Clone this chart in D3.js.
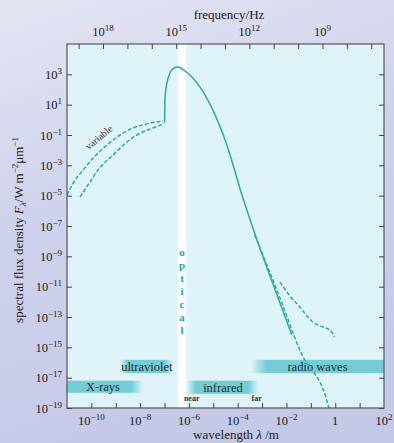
<!DOCTYPE html>
<html>
<head>
<meta charset="utf-8">
<title>Spectral flux density</title>
<script src="https://d3js.org/d3.v7.min.js"></script>
<style>
  body { margin: 0; }
  svg { display: block; font-family: "Liberation Serif", "DejaVu Serif", serif; }
  .curve { fill: none; stroke: #2ea9a3; stroke-width: 1.5px; }
  .dash { stroke-dasharray: 4,2; }
  .axis path { display: none; }
  .axis line { stroke: #444; stroke-width: 1px; }
</style>
</head>
<body>
<script>
// tick values and labels
var wavelengthTicks = [1e-10,1e-9,1e-8,1e-7,1e-6,1e-5,1e-4,1e-3,1e-2,1e-1,1,1e1];
var wavelengthLabelValues = [1e-10,1e-8,1e-6,1e-4,1e-2,1,1e2];
var wavelengthLabels = ["10^\u221210","10^\u22128","10^\u22126","10^\u22124","10^\u22122","1","10^2"];
var freqTicks = [1e19,1e18,1e17,1e16,1e15,1e14,1e13,1e12,1e11,1e10,1e9,1e8,1e7];
var freqLabelValues = [1e18,1e15,1e12,1e9];
var freqLabels = ["10^18","10^15","10^12","10^9"];
var fluxTicks = [1e3,1e1,1e-1,1e-3,1e-5,1e-7,1e-9,1e-11,1e-13,1e-15,1e-17,1e-19];
var fluxLabels = ["10^3","10^1","10^\u22121","10^\u22123","10^\u22125","10^\u22127","10^\u22129",
                  "10^\u221211","10^\u221213","10^\u221215","10^\u221217","10^\u221219"];

// curves: [wavelength (m), flux]
var variableUpper = [[1e-11,1.1e-5],[1.8e-11,6.9e-5],[4.6e-11,4.9e-4],[1.2e-10,3.1e-3],[4.4e-10,0.022],
                     [1.5e-9,0.1],[5e-9,0.29],[1.9e-8,0.54],[8.5e-8,0.83]];
var variableLower = [[3.4e-11,8.1e-6],[8.7e-11,7.9e-5],[2.2e-10,6.8e-4],[7.8e-10,4.8e-3],[2.9e-9,0.035],
                     [9.8e-9,0.13],[3.3e-8,0.29],[9.5e-8,0.54]];
var mainCurve = [[1e-7,0.63],[1.05e-7,32],[1.26e-7,270],[1.66e-7,1230],[2.45e-7,2630],[3.55e-7,3020],
                 [6.9e-7,1660],[1.45e-6,575],[2.8e-6,148],[9.5e-6,4.5],[3.6e-5,0.022],[1.5e-4,1.1e-5],
                 [4.2e-4,7.4e-8],[2.1e-3,5.1e-11],[0.0166,6.6e-15]];
var tailDashed = [[5e-4,2.6e-8],[5.4e-3,1.8e-12],[0.035,6.8e-16],[0.55,1e-19],[0.7,1e-20]];
var radioBranch = [[5.4e-3,2.0e-11],[0.015,2.1e-12],[0.035,4.6e-13],[0.076,1e-13],[0.12,4.7e-14],
                   [0.31,2.2e-14],[0.6,1.4e-14],[0.95,4.9e-15]];

// spectral regions
var bandNames = ["X-rays","ultraviolet","infrared","radio waves"];
var bandLambda = [[1e-11,1.3e-8],[1.6e-9,2.2e-7],[8.3e-7,7.4e-4],[3.5e-4,1e2]];
var bandFlux = [[6.3e-18,1e-18],[1.5e-16,2e-17],[6.3e-18,8.5e-19],[1.5e-16,2e-17]];
var bandFade = [[false,true],[true,true],[true,true],[true,false]];
var opticalLambda = [3e-7,9e-7];
var c = 3e8;

var W = 394, H = 443;
var margin = {top: 44, right: 10, bottom: 35, left: 67};

var x = d3.scaleLog().domain([1e-11, 1e2]).range([margin.left, W - margin.right]);
var y = d3.scaleLog().domain([1e-19, 1e5]).range([H - margin.bottom, margin.top]);
var xf = d3.scaleLog().domain([c / 1e-11, c / 1e2]).range([margin.left, W - margin.right]);

var svg = d3.select("body").append("svg").attr("width", W).attr("height", H);
var defs = svg.append("defs");

var bg = defs.append("linearGradient").attr("id", "bg")
  .attr("x1", 0).attr("y1", 0).attr("x2", 0.3).attr("y2", 1);
bg.append("stop").attr("offset", 0).attr("stop-color", "#e4e5f3");
bg.append("stop").attr("offset", 0.45).attr("stop-color", "#d0d3ed");
bg.append("stop").attr("offset", 1).attr("stop-color", "#c5c9e8");
svg.append("rect").attr("width", W).attr("height", H).attr("fill", "url(#bg)");

var pw = x.range()[1] - x.range()[0], ph = y.range()[0] - y.range()[1];
svg.append("rect").attr("x", x.range()[0]).attr("y", y.range()[1])
  .attr("width", pw).attr("height", ph).attr("fill", "#dff4f9");

defs.append("clipPath").attr("id", "plot").append("rect")
  .attr("x", x.range()[0]).attr("y", y.range()[1]).attr("width", pw).attr("height", ph);

// optical window
var og = defs.append("linearGradient").attr("id", "opt");
og.append("stop").attr("offset", 0).attr("stop-color", "#fff").attr("stop-opacity", 0);
og.append("stop").attr("offset", 0.3).attr("stop-color", "#fff").attr("stop-opacity", 1);
og.append("stop").attr("offset", 0.7).attr("stop-color", "#fff").attr("stop-opacity", 1);
og.append("stop").attr("offset", 1).attr("stop-color", "#fff").attr("stop-opacity", 0);
svg.append("rect").attr("x", x(opticalLambda[0])).attr("y", y.range()[1])
  .attr("width", x(opticalLambda[1]) - x(opticalLambda[0])).attr("height", ph)
  .attr("fill", "url(#opt)");

var xo = (x(opticalLambda[0]) + x(opticalLambda[1])) / 2;
"optical".split("").forEach(function(ch, i) {
  svg.append("text").attr("x", xo).attr("y", y(1e-9) + i * 13)
    .attr("text-anchor", "middle").attr("font-size", "11px").attr("font-weight", "bold")
    .attr("fill", "#2aa6a2").text(ch);
});

// region bands
bandNames.forEach(function(name, i) {
  var g = defs.append("linearGradient").attr("id", "band" + i);
  g.append("stop").attr("offset", 0).attr("stop-color", "#74cdd5").attr("stop-opacity", bandFade[i][0] ? 0 : 1);
  g.append("stop").attr("offset", bandFade[i][0] ? 0.12 : 0).attr("stop-color", "#74cdd5").attr("stop-opacity", 1);
  g.append("stop").attr("offset", bandFade[i][1] ? 0.85 : 1).attr("stop-color", "#74cdd5").attr("stop-opacity", 1);
  g.append("stop").attr("offset", 1).attr("stop-color", "#74cdd5").attr("stop-opacity", bandFade[i][1] ? 0 : 1);
  var x0 = x(bandLambda[i][0]), x1 = x(bandLambda[i][1]);
  var y0 = y(bandFlux[i][0]), y1 = y(bandFlux[i][1]);
  svg.append("rect").attr("x", x0).attr("y", y0).attr("width", x1 - x0).attr("height", y1 - y0)
    .attr("fill", "url(#band" + i + ")");
  svg.append("text").attr("x", (x0 + x1) / 2 + (i == 0 ? -2 : 0)).attr("y", (y0 + y1) / 2 + 4.5)
    .attr("text-anchor", "middle").attr("font-size", "12.5px").attr("fill", "#1e2a2a").text(name);
});

svg.append("text").attr("x", x(1.3e-6)).attr("y", y(1e-19) - 7).attr("text-anchor", "middle")
  .attr("font-size", "8px").attr("font-weight", "bold").attr("fill", "#333").text("near");
svg.append("text").attr("x", x(6e-4)).attr("y", y(1e-19) - 7).attr("text-anchor", "middle")
  .attr("font-size", "8px").attr("font-weight", "bold").attr("fill", "#333").text("far");

// curves
var line = d3.line().x(function(d) { return x(d[0]); }).y(function(d) { return y(d[1]); })
  .curve(d3.curveMonotoneX);
var curves = svg.append("g").attr("clip-path", "url(#plot)");
curves.append("path").datum(variableUpper).attr("class", "curve dash").attr("d", line);
curves.append("path").datum(variableLower).attr("class", "curve dash").attr("d", line);
curves.append("path").datum(mainCurve).attr("class", "curve").attr("d", line);
curves.append("path").datum(tailDashed).attr("class", "curve dash").attr("d", line);
curves.append("path").datum(radioBranch).attr("class", "curve dash").attr("d", line);

svg.append("text").attr("transform", "translate(" + x(2.5e-10) + "," + y(0.047) + ") rotate(-40)")
  .attr("text-anchor", "middle").attr("font-size", "10px").attr("fill", "#333").text("variable");

// axes (ticks point inward)
svg.append("rect").attr("x", x.range()[0]).attr("y", y.range()[1])
  .attr("width", pw).attr("height", ph).attr("fill", "none").attr("stroke", "#555").attr("stroke-width", 1.2);

svg.append("g").attr("class", "axis").attr("transform", "translate(0," + y.range()[0] + ")")
  .call(d3.axisBottom(x).tickValues(wavelengthTicks).tickSize(-5).tickFormat(""));
svg.append("g").attr("class", "axis").attr("transform", "translate(0," + y.range()[1] + ")")
  .call(d3.axisTop(xf).tickValues(freqTicks).tickSize(-5).tickFormat(""));
svg.append("g").attr("class", "axis").attr("transform", "translate(" + x.range()[0] + ",0)")
  .call(d3.axisLeft(y).tickValues(fluxTicks).tickSize(-5).tickFormat(""));
svg.append("g").attr("class", "axis").attr("transform", "translate(" + x.range()[1] + ",0)")
  .call(d3.axisRight(y).tickValues(fluxTicks).tickSize(-5).tickFormat(""));

function supLabel(sel, str) {
  var p = str.split("^");
  sel.text(p[0]);
  if (p[1]) sel.append("tspan").attr("dy", -5).attr("font-size", "9px").text(p[1]);
}

wavelengthLabelValues.forEach(function(v, i) {
  svg.append("text").attr("x", x(v)).attr("y", y.range()[0] + 17).attr("text-anchor", "middle")
    .attr("font-size", "12.5px").attr("fill", "#1a1a1a").call(supLabel, wavelengthLabels[i]);
});
freqLabelValues.forEach(function(v, i) {
  svg.append("text").attr("x", xf(v)).attr("y", y.range()[1] - 8).attr("text-anchor", "middle")
    .attr("font-size", "12.5px").attr("fill", "#1a1a1a").call(supLabel, freqLabels[i]);
});
fluxTicks.forEach(function(v, i) {
  svg.append("text").attr("x", x.range()[0] - 5).attr("y", y(v) + 4.5).attr("text-anchor", "end")
    .attr("font-size", "12.5px").attr("fill", "#1a1a1a").call(supLabel, fluxLabels[i]);
});

// axis titles
svg.append("text").attr("x", 236).attr("y", 439).attr("text-anchor", "middle")
  .attr("font-size", "13px").attr("fill", "#1a1a1a")
  .call(function(t) {
    t.append("tspan").text("wavelength ");
    t.append("tspan").attr("font-style", "italic").text("\u03bb");
    t.append("tspan").text(" /m");
  });
svg.append("text").attr("x", 229).attr("y", 19).attr("text-anchor", "middle")
  .attr("font-size", "13px").attr("fill", "#1a1a1a").text("frequency/Hz");

svg.append("text").attr("transform", "translate(23," + 230 + ") rotate(-90)")
  .attr("text-anchor", "middle").attr("font-size", "13px").attr("fill", "#1a1a1a")
  .call(function(t) {
    t.append("tspan").text("spectral flux density ");
    t.append("tspan").attr("font-style", "italic").text("F");
    t.append("tspan").attr("font-style", "italic").attr("font-size", "9px").attr("dy", 3).text("\u03bb");
    t.append("tspan").attr("dy", -3).text("/W m");
    t.append("tspan").attr("font-size", "9px").attr("dy", -5).text("\u22122");
    t.append("tspan").attr("dy", 5).text("\u03bcm");
    t.append("tspan").attr("font-size", "9px").attr("dy", -5).text("\u22121");
  });
</script>
</body>
</html>
